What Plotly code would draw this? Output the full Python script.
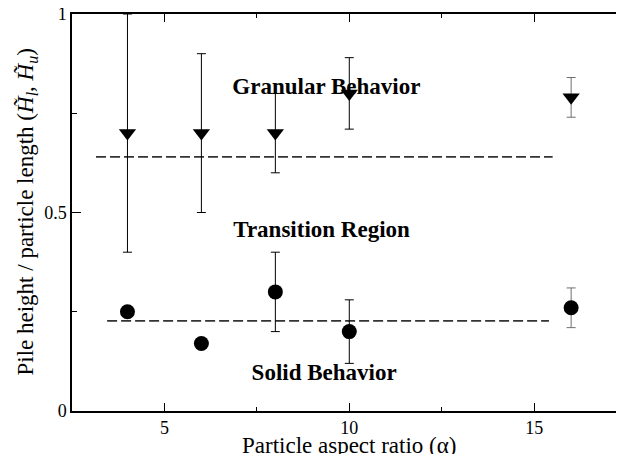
import plotly.graph_objects as go

# Data
alpha = [4, 6, 8, 10, 16]
h_upper = [0.70, 0.70, 0.70, 0.80, 0.79]
h_upper_err = [0.30, 0.20, 0.10, 0.09, 0.05]
h_lower = [0.25, 0.17, 0.30, 0.20, 0.26]
h_lower_err = [0.0, 0.0, 0.10, 0.08, 0.05]
err_color = ["black", "black", "black", "black", "#6e6e6e"]

granular_line_x = [3.15, 15.5]
granular_line_y = [0.64, 0.64]
solid_line_x = [3.45, 15.4]
solid_line_y = [0.227, 0.227]

region_labels = ["Granular Behavior", "Transition Region", "Solid Behavior"]
region_x = [9.38, 9.25, 9.32]
region_y = [0.813, 0.453, 0.093]

x_tickvals = [5, 10, 15]
y_tickvals = [0, 0.5, 1]
y_ticktext = ["0", "0.5", "1"]

FONT = "Liberation Serif"

fig = go.Figure()

fig.add_trace(go.Scatter(
    x=region_x, y=region_y, text=[f"<b>{t}</b>" for t in region_labels],
    mode="text", textfont=dict(family=FONT, size=23, color="black"),
    hoverinfo="skip", showlegend=False))

for lx, ly in [(granular_line_x, granular_line_y), (solid_line_x, solid_line_y)]:
    fig.add_trace(go.Scatter(
        x=lx, y=ly, mode="lines",
        line=dict(color="#333333", width=1.6, dash="10px,4px"),
        showlegend=False, hoverinfo="skip"))

# error bars, grouped by colour
for col in sorted(set(err_color)):
    idx = [i for i, c in enumerate(err_color) if c == col]
    for ys, es in [(h_upper, h_upper_err), (h_lower, h_lower_err)]:
        fig.add_trace(go.Scatter(
            x=[alpha[i] for i in idx], y=[ys[i] for i in idx], mode="none",
            error_y=dict(type="data", array=[es[i] for i in idx], symmetric=True,
                         color=col, thickness=1, width=4.5),
            showlegend=False, hoverinfo="skip"))

fig.add_trace(go.Scatter(
    x=alpha, y=h_upper, mode="markers",
    marker=dict(symbol="triangle-down", size=15, color="black"),
    showlegend=False))

fig.add_trace(go.Scatter(
    x=alpha, y=h_lower, mode="markers",
    marker=dict(symbol="circle", size=15, color="black"),
    showlegend=False))

fig.update_layout(
    width=616, height=446,
    margin=dict(l=64, r=0, t=6, b=43, autoexpand=False),
    paper_bgcolor="white", plot_bgcolor="white",
    font=dict(family=FONT, color="black"),
    xaxis=dict(range=[2.5, 17.43], tickvals=x_tickvals, ticks="inside",
               ticklen=8, tickwidth=1, tickcolor="black",
               showline=True, linecolor="black", linewidth=1.5, mirror="ticks",
               showgrid=False, zeroline=False, automargin=False,
               ticklabeloverflow="allow",
               tickfont=dict(family=FONT, size=18),
               minor=dict(dtick=2.5, tick0=0, ticks="inside", ticklen=4,
                          tickwidth=1, tickcolor="black", showgrid=False)),
    yaxis=dict(range=[0, 1], tickvals=y_tickvals, ticktext=y_ticktext,
               ticks="inside", ticklen=9, tickwidth=1, tickcolor="black",
               showline=True, linecolor="black", linewidth=1.5,
               showgrid=False, zeroline=False, automargin=False,
               ticklabeloverflow="allow",
               tickfont=dict(family=FONT, size=18),
               minor=dict(dtick=0.25, tick0=0, ticks="inside", ticklen=5,
                          tickwidth=1, tickcolor="black", showgrid=False)),
    yaxis2=dict(range=[0, 1], overlaying="y", side="right",
                tickvals=y_tickvals, ticks="inside", ticklen=9, tickwidth=1,
                tickcolor="black", showticklabels=False, showline=False,
                showgrid=False, zeroline=False, automargin=False,
                minor=dict(dtick=0.25, tick0=0, ticks="inside", ticklen=5,
                           tickwidth=1, tickcolor="black", showgrid=False)),
    annotations=[
        dict(text="Particle aspect ratio (α)", xref="paper", yref="paper",
             x=0.502, y=-0.086, xanchor="center", yanchor="middle",
             showarrow=False, font=dict(family=FONT, size=23)),
        dict(text="Pile height / particle length (<i>H\u0303</i><sub><i>l</i></sub>, <i>H\u0303</i><sub><i>u</i></sub>)",
             xref="paper", yref="paper", x=-0.0815, y=0.5,
             xanchor="center", yanchor="middle", textangle=-90,
             showarrow=False, font=dict(family=FONT, size=23)),
    ],
)

fig.write_html("out.html")
